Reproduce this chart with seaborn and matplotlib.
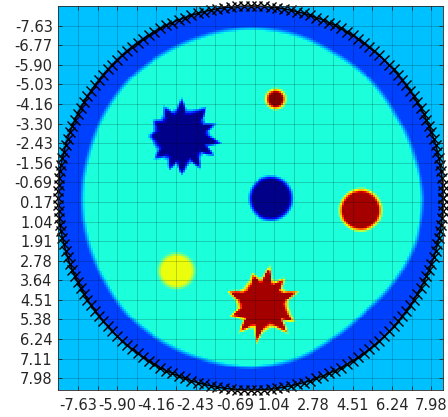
import numpy as np
import matplotlib
matplotlib.use("Agg")
import matplotlib.pyplot as plt
import seaborn as sns

plt.rcParams["font.family"] = ["DejaVu Sans"]

# ---- grid ----------------------------------------------------------------
n_cells = 197
extent = 8.5
tick_index = list(range(10, 191, 10))
y_tick_labels = ["-7.63", "-6.77", "-5.90", "-5.03", "-4.16", "-3.30", "-2.43",
                 "-1.56", "-0.69", "0.17", "1.04", "1.91", "2.78", "3.64",
                 "4.51", "5.38", "6.24", "7.11", "7.98"]
x_tick_labels = ["-7.63", "", "-5.90", "", "-4.16", "", "-2.43", "", "-0.69", "",
                 "1.04", "", "2.78", "", "4.51", "", "6.24", "", "7.98"]

# ---- field levels (jet scale 0..1) --------------------------------------
outside_level = 0.3125
ring_level = 0.1875
interior_level = 0.385
ring_radius = 8.5

# interior boundary radius, every 15 degrees starting at -180
interior_angles = [-180, -165, -150, -135, -120, -105, -90, -75, -60, -45, -30, -15,
                   0, 15, 30, 45, 60, 75, 90, 105, 120, 135, 150, 165]
interior_radii = [7.45, 7.42, 7.45, 7.50, 7.45, 7.45, 7.50, 7.48, 7.40, 7.43, 7.38, 7.45,
                  7.60, 7.55, 7.35, 7.12, 7.20, 7.40, 7.50, 7.43, 7.45, 7.50, 7.42, 7.45]

# inclusions: centre, level, radius, edge softness
blob_x = [1.11, -3.05, 0.89, 4.86, -3.27, 0.55]
blob_y = [-4.38, -2.73, 0.02, 0.54, 3.23, 4.70]
blob_level = [1.0, 0.01, 0.01, 0.965, 0.635, 0.965]
blob_radius = [0.40, None, 0.92, 0.90, 0.76, None]
blob_soft = [0.22, 0.30, 0.22, 0.22, 0.22, 0.28]

# outlines of the two star-shaped inclusions, every 10 degrees from -180
star_angles = list(range(-180, 180, 10))
star_blue_radii = [1.40, 1.15, 1.20, 1.35, 1.10, 1.15, 1.45, 1.10, 1.15, 1.60, 1.10, 1.15,
                   1.30, 1.60, 1.15, 1.10, 1.55, 1.15, 1.20, 1.70, 1.15, 1.60, 1.10, 1.15,
                   1.55, 1.10, 1.25, 1.65, 1.10, 1.50, 1.10, 1.15, 1.45, 1.10, 1.15, 1.20]
star_red_radii = [1.08, 1.18, 1.60, 1.12, 1.02, 1.08, 1.12, 1.38, 1.08, 1.08, 1.68, 1.08,
                  1.08, 1.42, 1.02, 1.08, 1.58, 1.08, 1.02, 1.08, 1.22, 1.52, 1.08, 1.62,
                  1.18, 1.02, 1.08, 1.18, 1.68, 1.08, 1.18, 1.58, 1.08, 1.18, 1.48, 1.08]
blob_outline = {1: star_blue_radii, 5: star_red_radii}

# electrodes on the boundary
n_electrodes = 180

# ---- build the image -------------------------------------------------------
coords = np.linspace(-extent, extent, n_cells)
X, Y = np.meshgrid(coords, coords)
R = np.hypot(X, Y)
T = np.degrees(np.arctan2(Y, X))


def blend(base, level, edge, dist, soft=0.22):
    w = np.clip((edge - dist) / soft + 0.5, 0.0, 1.0)
    return base * (1 - w) + level * w


def outline(angles, radii, theta):
    a = np.array(angles + [angles[0] + 360], dtype=float)
    r = np.array(radii + [radii[0]], dtype=float)
    return np.interp(np.mod(theta + 180, 360) - 180, a, r)


Z = np.full_like(X, outside_level)
Z = blend(Z, ring_level, ring_radius, R)
Z = blend(Z, interior_level, outline(interior_angles, interior_radii, T), R)
for k in range(len(blob_x)):
    d = np.hypot(X - blob_x[k], Y - blob_y[k])
    th = np.degrees(np.arctan2(Y - blob_y[k], X - blob_x[k]))
    if k in blob_outline:
        edge = outline(star_angles, blob_outline[k], th)
    else:
        edge = blob_radius[k]
    Z = blend(Z, blob_level[k], edge, d, blob_soft[k])

# ---- figure ----------------------------------------------------------------
fig = plt.figure(figsize=(4.48, 4.17), dpi=100)
ax = fig.add_axes([0.130, 0.0647, 0.859, 0.921])
sns.heatmap(Z, ax=ax, cmap="jet", vmin=0, vmax=1, cbar=False,
            xticklabels=False, yticklabels=False)

step = 2 * extent / (n_cells - 1)


def to_cell(v):
    return (np.asarray(v) + extent) / step + 0.5


ax.set_xlim(0.5, n_cells - 0.5)
ax.set_ylim(n_cells - 0.5, 0.5)

pos = [i + 0.5 for i in tick_index]
ax.set_xticks(pos)
ax.set_xticklabels(x_tick_labels, rotation=0)
ax.set_yticks(pos)
ax.set_yticklabels(y_tick_labels, rotation=0)
ax.tick_params(direction="in", length=3, width=0.6, colors="#262626",
               labelsize=10.5, top=True, right=True, pad=4)
ax.tick_params(axis="x", pad=6)

ax.grid(True, color="black", alpha=0.22, linewidth=0.6)
ax.set_axisbelow(False)
for s in ax.spines.values():
    s.set_visible(True)
    s.set_color("#262626")
    s.set_linewidth(0.6)

phi = np.linspace(0, 2 * np.pi, n_electrodes, endpoint=False)
ex = ring_radius * np.cos(phi)
ey = ring_radius * np.sin(phi)
ax.plot(np.append(to_cell(ex), to_cell(ex[0])), np.append(to_cell(ey), to_cell(ey[0])),
        color="black", marker="x", markersize=6.5, markeredgewidth=1.0,
        linewidth=1.0, clip_on=False)

fig.savefig("out.png", dpi=100)
